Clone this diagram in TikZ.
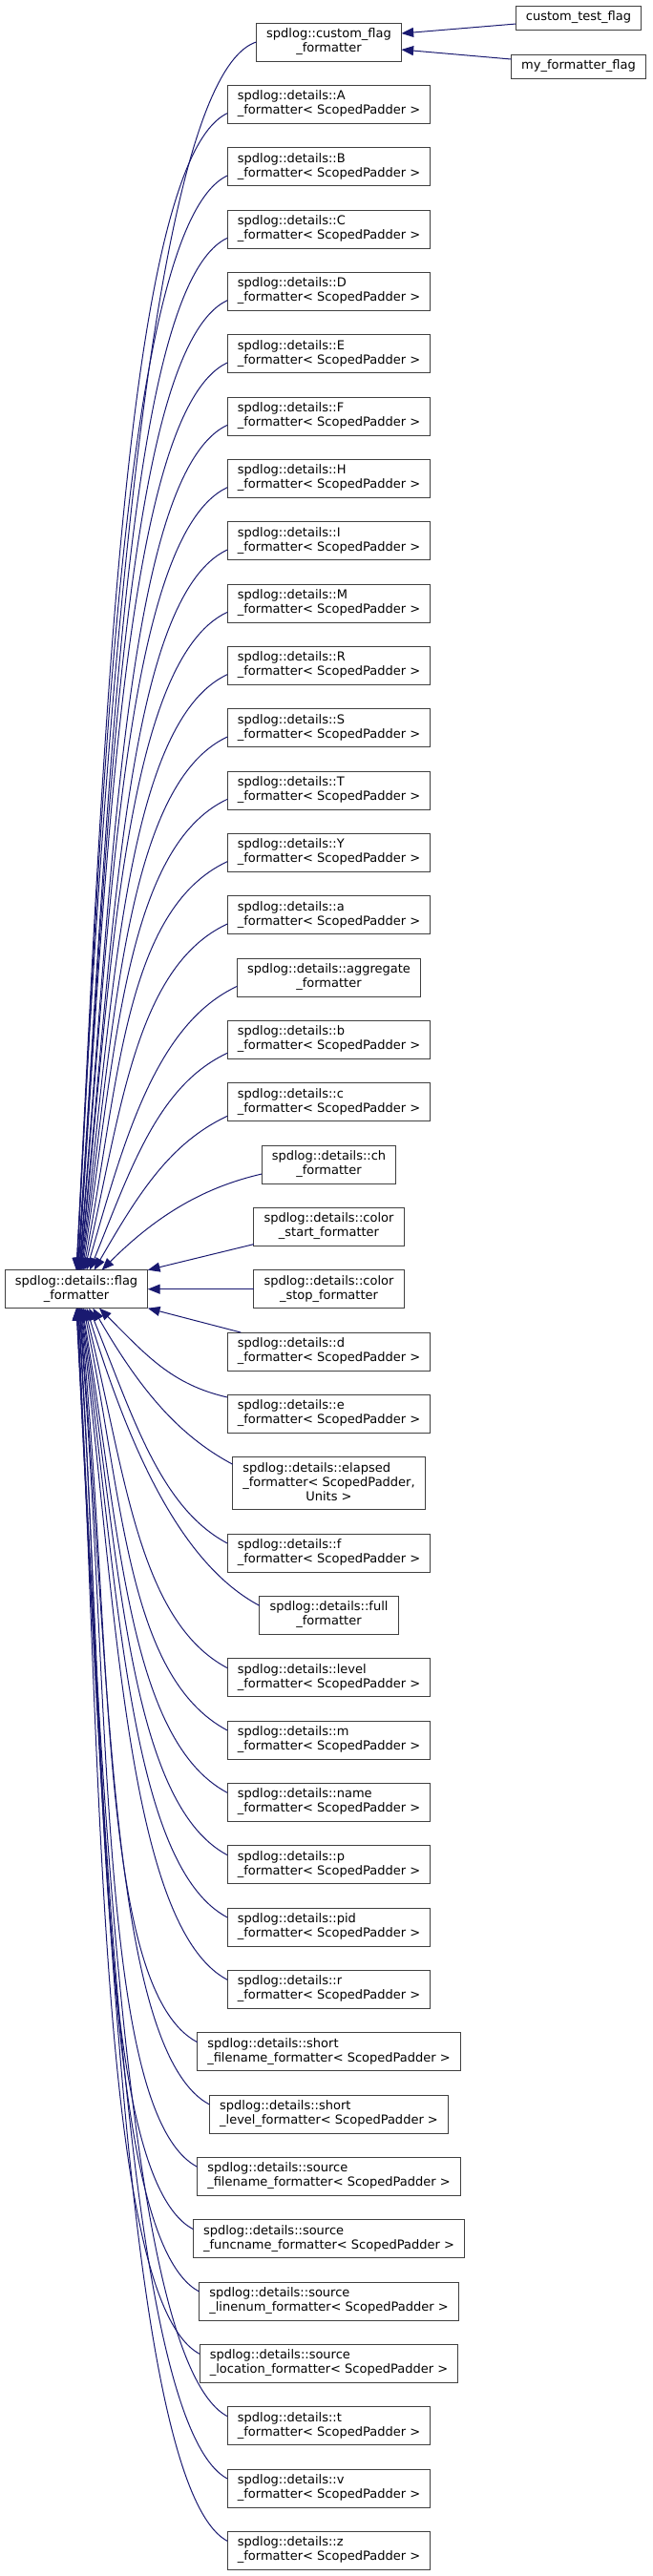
\documentclass[tikz,border=0pt]{standalone}
\usepackage{fontspec}
\setmainfont{DejaVu Sans}
\usepackage{xcolor}
\usepackage{tikz}
\usetikzlibrary{positioning,arrows.meta}

\definecolor{edgeblue}{HTML}{191970}
\definecolor{boxline}{HTML}{404040}
% first line flush left, last line centred
\newcommand{\lbl}[2]{\begin{tabular}{@{}c@{}}\multicolumn{1}{@{}l@{}}{#1}\\#2\end{tabular}}

\begin{document}
\begin{tikzpicture}[
  node distance=19pt,
  box/.style={draw=boxline, line width=0.75pt, fill=white, outer sep=0pt,
              inner xsep=8pt, inner ysep=3.75pt,
              font=\fontsize{9.75pt}{11.25pt}\selectfont},
  inh/.style={draw=edgeblue, line width=0.75pt,
              -{Triangle[length=9.5pt,width=7.5pt]}},
  upe/.style={inh, out=205, in=#1, out distance=90pt, in looseness=1.1},
  dne/.style={inh, out=152, in=#1, out distance=90pt, in looseness=1.1}]
\useasboundingbox (-258.375pt,33pt) rectangle (253.875pt,-1991.25pt);

\node[box] (cflag) at (0,0) {\lbl{spdlog::custom\_flag}{\_formatter}};
\node[box] (ctest) at (196.125pt,19.125pt) {\strut custom\_test\_flag};
\node[box] (myflag) at (196.125pt,-19.125pt) {\strut my\_formatter\_flag};

\node[box, below=of cflag] (fA) {\lbl{spdlog::details::A}{\_formatter< ScopedPadder >}};
\node[box, below=of fA] (fB) {\lbl{spdlog::details::B}{\_formatter< ScopedPadder >}};
\node[box, below=of fB] (fC) {\lbl{spdlog::details::C}{\_formatter< ScopedPadder >}};
\node[box, below=of fC] (fD) {\lbl{spdlog::details::D}{\_formatter< ScopedPadder >}};
\node[box, below=of fD] (fE) {\lbl{spdlog::details::E}{\_formatter< ScopedPadder >}};
\node[box, below=of fE] (fF) {\lbl{spdlog::details::F}{\_formatter< ScopedPadder >}};
\node[box, below=of fF] (fH) {\lbl{spdlog::details::H}{\_formatter< ScopedPadder >}};
\node[box, below=of fH] (fI) {\lbl{spdlog::details::I}{\_formatter< ScopedPadder >}};
\node[box, below=of fI] (fM) {\lbl{spdlog::details::M}{\_formatter< ScopedPadder >}};
\node[box, below=of fM] (fR) {\lbl{spdlog::details::R}{\_formatter< ScopedPadder >}};
\node[box, below=of fR] (fS) {\lbl{spdlog::details::S}{\_formatter< ScopedPadder >}};
\node[box, below=of fS] (fT) {\lbl{spdlog::details::T}{\_formatter< ScopedPadder >}};
\node[box, below=of fT] (fY) {\lbl{spdlog::details::Y}{\_formatter< ScopedPadder >}};
\node[box, below=of fY] (fa) {\lbl{spdlog::details::a}{\_formatter< ScopedPadder >}};
\node[box, below=of fa] (aggr) {\lbl{spdlog::details::aggregate}{\_formatter}};
\node[box, below=of aggr] (fb) {\lbl{spdlog::details::b}{\_formatter< ScopedPadder >}};
\node[box, below=of fb] (fc) {\lbl{spdlog::details::c}{\_formatter< ScopedPadder >}};
\node[box, below=of fc] (fch) {\lbl{spdlog::details::ch}{\_formatter}};
\node[box, below=of fch] (cstart) {\lbl{spdlog::details::color}{\_start\_formatter}};
\node[box, below=of cstart] (cstop) {\lbl{spdlog::details::color}{\_stop\_formatter}};
\node[box, below=of cstop] (fd) {\lbl{spdlog::details::d}{\_formatter< ScopedPadder >}};
\node[box, below=of fd] (fe) {\lbl{spdlog::details::e}{\_formatter< ScopedPadder >}};
\node[box, below=of fe] (elapsed) {\begin{tabular}{@{}c@{}}\multicolumn{1}{@{}l@{}}{spdlog::details::elapsed}\\
  \multicolumn{1}{@{}l@{}}{\_formatter< ScopedPadder,}\\Units >\end{tabular}};
\node[box, below=of elapsed] (ff) {\lbl{spdlog::details::f}{\_formatter< ScopedPadder >}};
\node[box, below=of ff] (full) {\lbl{spdlog::details::full}{\_formatter}};
\node[box, below=of full] (level) {\lbl{spdlog::details::level}{\_formatter< ScopedPadder >}};
\node[box, below=of level] (fm) {\lbl{spdlog::details::m}{\_formatter< ScopedPadder >}};
\node[box, below=of fm] (name) {\lbl{spdlog::details::name}{\_formatter< ScopedPadder >}};
\node[box, below=of name] (fp) {\lbl{spdlog::details::p}{\_formatter< ScopedPadder >}};
\node[box, below=of fp] (pid) {\lbl{spdlog::details::pid}{\_formatter< ScopedPadder >}};
\node[box, below=of pid] (fr) {\lbl{spdlog::details::r}{\_formatter< ScopedPadder >}};
\node[box, below=of fr] (sfile) {\lbl{spdlog::details::short}{\_filename\_formatter< ScopedPadder >}};
\node[box, below=of sfile] (slevel) {\lbl{spdlog::details::short}{\_level\_formatter< ScopedPadder >}};
\node[box, below=of slevel] (srcfile) {\lbl{spdlog::details::source}{\_filename\_formatter< ScopedPadder >}};
\node[box, below=of srcfile] (srcfunc) {\lbl{spdlog::details::source}{\_funcname\_formatter< ScopedPadder >}};
\node[box, below=of srcfunc] (srcline) {\lbl{spdlog::details::source}{\_linenum\_formatter< ScopedPadder >}};
\node[box, below=of srcline] (srcloc) {\lbl{spdlog::details::source}{\_location\_formatter< ScopedPadder >}};
\node[box, below=of srcloc] (ft) {\lbl{spdlog::details::t}{\_formatter< ScopedPadder >}};
\node[box, below=of ft] (fv) {\lbl{spdlog::details::v}{\_formatter< ScopedPadder >}};
\node[box, below=of fv] (fz) {\lbl{spdlog::details::z}{\_formatter< ScopedPadder >}};

\node[box, left=83.25pt of cstop] (root) {\lbl{spdlog::details::flag}{\_formatter}};

\draw[inh] ([yshift=-4.9pt]ctest.west) -- ([yshift=6.75pt]cflag.east);
\draw[inh] ([yshift=5.6pt]myflag.west) -- ([yshift=-6pt]cflag.east);

% upper children
\draw[upe=87, out=198] (cflag.west) to (root.north);
\draw[upe=87] ([yshift=-7pt]fA.west) to (root.north);
\draw[upe=87] ([yshift=-7pt]fB.west) to ([xshift=0.4pt]root.north);
\draw[upe=86] ([yshift=-7pt]fC.west) to ([xshift=0.8pt]root.north);
\draw[upe=86] ([yshift=-7pt]fD.west) to ([xshift=1.1pt]root.north);
\draw[upe=86] ([yshift=-7pt]fE.west) to ([xshift=1.5pt]root.north);
\draw[upe=85] ([yshift=-7pt]fF.west) to ([xshift=1.9pt]root.north);
\draw[upe=85] ([yshift=-7pt]fH.west) to ([xshift=2.3pt]root.north);
\draw[upe=84] ([yshift=-7pt]fI.west) to ([xshift=2.6pt]root.north);
\draw[upe=84] ([yshift=-7pt]fM.west) to ([xshift=3pt]root.north);
\draw[upe=83] ([yshift=-7pt]fR.west) to ([xshift=3.4pt]root.north);
\draw[upe=82] ([yshift=-7pt]fS.west) to ([xshift=3.8pt]root.north);
\draw[upe=81] ([yshift=-7pt]fT.west) to ([xshift=4.5pt]root.north);
\draw[upe=79] ([yshift=-7pt]fY.west) to ([xshift=5.3pt]root.north);
\draw[upe=77, out distance=80pt] ([yshift=-7pt]fa.west) to ([xshift=6.4pt]root.north);
\draw[upe=74, out distance=70pt] ([yshift=-7pt]aggr.west) to ([xshift=8pt]root.north);
\draw[upe=68, out distance=60pt] ([yshift=-10.5pt]fb.west) to ([xshift=10.5pt]root.north);
\draw[upe=60, out distance=50pt] ([yshift=-11pt]fc.west) to ([xshift=14pt]root.north);
\draw[upe=45, out=193, out distance=45pt] ([yshift=-7.5pt]fch.west) to ([xshift=20pt]root.north);

% neighbours on the right
\draw[inh] ([yshift=1.3pt]cstart.south west) -- (root.north east);
\draw[inh] (cstop.west) -- (root.east);
\draw[inh] ([xshift=10.5pt]fd.north west) -- (root.south east);

% lower children
\draw[dne=-45, out=167, out distance=45pt] ([yshift=13pt]fe.west) to ([xshift=18pt]root.south);
\draw[dne=-60, out distance=50pt] ([yshift=15pt]elapsed.west) to ([xshift=13pt]root.south);
\draw[dne=-68, out distance=60pt] ([yshift=7.5pt]ff.west) to ([xshift=10pt]root.south);
\draw[dne=-73, out distance=70pt] ([yshift=7.5pt]full.west) to ([xshift=8pt]root.south);
\draw[dne=-76, out distance=80pt] ([yshift=7.5pt]level.west) to ([xshift=6.5pt]root.south);
\draw[dne=-78] ([yshift=7.5pt]fm.west) to ([xshift=5.5pt]root.south);
\draw[dne=-80] ([yshift=7.5pt]name.west) to ([xshift=4.5pt]root.south);
\draw[dne=-81] ([yshift=7.5pt]fp.west) to ([xshift=4pt]root.south);
\draw[dne=-82] ([yshift=7.5pt]pid.west) to ([xshift=3.4pt]root.south);
\draw[dne=-83] ([yshift=7.5pt]fr.west) to ([xshift=3pt]root.south);
\draw[dne=-84] ([yshift=7.5pt]sfile.west) to ([xshift=2.6pt]root.south);
\draw[dne=-85] ([yshift=7.5pt]slevel.west) to ([xshift=2.3pt]root.south);
\draw[dne=-85] ([yshift=7.5pt]srcfile.west) to ([xshift=1.9pt]root.south);
\draw[dne=-86] ([yshift=7.5pt]srcfunc.west) to ([xshift=1.5pt]root.south);
\draw[dne=-86] ([yshift=7.5pt]srcline.west) to ([xshift=1.1pt]root.south);
\draw[dne=-87] ([yshift=7.5pt]srcloc.west) to ([xshift=0.8pt]root.south);
\draw[dne=-87] ([yshift=7.5pt]ft.west) to ([xshift=0.4pt]root.south);
\draw[dne=-87] ([yshift=7.5pt]fv.west) to (root.south);
\draw[dne=-87] ([yshift=7.5pt]fz.west) to (root.south);
\end{tikzpicture}
\end{document}
